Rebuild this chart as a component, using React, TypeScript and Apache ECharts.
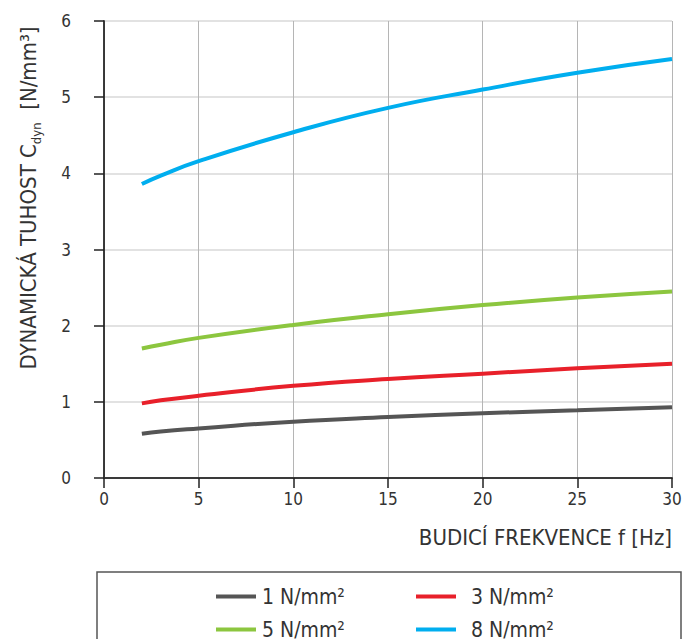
import React, { useEffect, useRef } from "react";
import * as echarts from "echarts";

const freq = [2, 3, 5, 10, 15, 20, 25, 30];
const s1 = [0.58, 0.61, 0.65, 0.74, 0.80, 0.85, 0.89, 0.93];
const s3 = [0.98, 1.02, 1.08, 1.21, 1.30, 1.37, 1.44, 1.50];
const s5 = [1.70, 1.75, 1.84, 2.01, 2.15, 2.27, 2.37, 2.45];
const s8 = [3.86, 3.97, 4.16, 4.54, 4.86, 5.10, 5.32, 5.50];
const names = ["1 N/mm²", "3 N/mm²", "5 N/mm²", "8 N/mm²"];
const colors = ["#555555", "#e8202a", "#8cc63f", "#00aeef"];
const xTicks = [0, 5, 10, 15, 20, 25, 30];
const yTicks = [0, 1, 2, 3, 4, 5, 6];

const FONT = "'DejaVu Sans Condensed', 'Liberation Sans Narrow', sans-serif";

const legendPos = [
  { left: 216, top: 586, pad: 1 },
  { left: 416, top: 586, pad: 10 },
  { left: 216, top: 619, pad: 1 },
  { left: 416, top: 619, pad: 10 },
];

export default function App() {
  const ref = useRef<HTMLDivElement>(null);
  useEffect(() => {
    const chart = echarts.init(ref.current!, null, { renderer: "svg" });
    const all = [s1, s3, s5, s8];
    chart.setOption({
      animation: false,
      textStyle: { fontFamily: FONT },
      grid: { left: 104, right: 13, top: 21, bottom: 161 },
      xAxis: [
        {
          type: "value",
          min: xTicks[0],
          max: xTicks[xTicks.length - 1],
          interval: 5,
          axisLine: { show: true, onZero: false, lineStyle: { color: "#222", width: 1.5 } },
          axisTick: { show: true, length: 10, lineStyle: { color: "#222", width: 1.5 } },
          axisLabel: { fontSize: 17, color: "#333", margin: 12, fontFamily: FONT },
          splitLine: { show: true, lineStyle: { color: "#b5b5b5", width: 1 } },
        },
        {
          type: "value",
          position: "top",
          min: 0,
          max: 30,
          interval: 5,
          axisLine: { show: true, lineStyle: { color: "#333", width: 1.5 } },
          axisTick: { show: false },
          axisLabel: { show: false },
          splitLine: { show: false },
        },
      ],
      yAxis: [
        {
          type: "value",
          min: yTicks[0],
          max: yTicks[yTicks.length - 1],
          interval: 1,
          axisLine: { show: true, onZero: false, lineStyle: { color: "#222", width: 1.5 } },
          axisTick: { show: true, length: 10, lineStyle: { color: "#222", width: 1.5 } },
          axisLabel: { fontSize: 17, color: "#333", margin: 33, fontFamily: FONT },
          splitLine: { show: true, lineStyle: { color: "#d8d8d8", width: 1.5 } },
        },
        {
          type: "value",
          position: "right",
          min: 0,
          max: 6,
          interval: 1,
          axisLine: { show: true, lineStyle: { color: "#333", width: 1.5 } },
          axisTick: { show: false },
          axisLabel: { show: false },
          splitLine: { show: false },
        },
      ],
      legend: names.map((n, i) => ({
        data: [n],
        left: legendPos[i].left,
        top: legendPos[i].top,
        padding: 0,
        itemWidth: 40,
        itemHeight: 4,
        icon: "rect",
        textStyle: {
          fontSize: 21,
          color: "#333",
          fontFamily: FONT,
          padding: [0, 0, 0, legendPos[i].pad],
        },
      })),
      graphic: [
        {
          type: "rect",
          shape: { x: 97, y: 572, width: 584, height: 100 },
          style: { fill: "none", stroke: "#555", lineWidth: 1.5 },
        },
        {
          type: "text",
          x: 672,
          y: 537,
          style: {
            text: "BUDICÍ FREKVENCE f [Hz]",
            align: "right",
            verticalAlign: "middle",
            font: `22px ${FONT}`,
            fill: "#333",
          },
        },
        {
          type: "text",
          x: 28,
          y: 198,
          rotation: Math.PI / 2,
          style: {
            text: "{a|DYNAMICKÁ TUHOST C}{b|dyn}{a|  [N/mm³]}",
            align: "center",
            verticalAlign: "middle",
            fill: "#333",
            rich: {
              a: { fontSize: 22, fontFamily: FONT, fill: "#333", verticalAlign: "middle" },
              b: { fontSize: 13, fontFamily: FONT, fill: "#333", padding: [16, 0, 0, 0] },
            },
          },
        },
      ],
      series: all.map((d, i) => ({
        name: names[i],
        type: "line",
        smooth: true,
        showSymbol: false,
        symbol: "none",
        data: freq.map((f, j) => [f, d[j]]),
        lineStyle: { color: colors[i], width: 4 },
        itemStyle: { color: colors[i] },
      })),
    });
    return () => chart.dispose();
  }, []);
  return <div ref={ref} style={{ width: 685, height: 639, position: "absolute", left: 0, top: 0 }} />;
}
